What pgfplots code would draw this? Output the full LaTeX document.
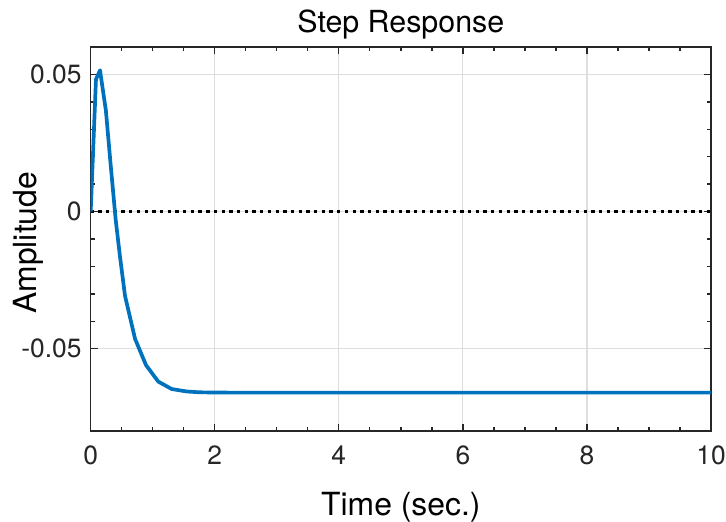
\documentclass[border=0pt]{standalone}
\usepackage{fontspec}
\setmainfont{TeX Gyre Heros}
\usepackage{pgfplots}
\pgfplotsset{compat=1.18}
\definecolor{mblue}{RGB}{0,114,189}
\definecolor{axgray}{RGB}{38,38,38}
\definecolor{gridgray}{RGB}{222,222,222}
\begin{document}
\begin{tikzpicture}
\begin{axis}[
  scale only axis, width=620.3bp, height=384bp,
  xmin=0, xmax=10, ymin=-0.08, ymax=0.06,
  xtick={0,2,4,6,8,10}, xticklabels={0,2,4,6,8,10},
  ytick={-0.05,0,0.05}, yticklabels={-0.05,0,0.05},
  minor x tick num=3, minor y tick num=4,
  scaled y ticks=false,
  grid=major, major grid style={gridgray, line width=1.2bp},
  axis line style={axgray, line width=1.3bp},
  tick style={axgray, line width=1.3bp},
  major tick length=7bp, minor tick length=4bp,
  tick label style={font=\fontsize{26.5}{30}\selectfont, text=axgray, inner sep=0pt},
  xticklabel style={anchor=base, yshift=-33bp},
  yticklabel style={anchor=east, xshift=-9bp},
  title={Step Response},
  every axis title/.style={font=\fontsize{30.5}{34}\selectfont, at={(axis description cs:0.5,1)}, anchor=base, yshift=14bp, inner sep=0pt},
  xlabel={Time (sec.)},
  every axis x label/.style={font=\fontsize{32}{36}\selectfont, at={(axis description cs:0.5,0)}, anchor=base, yshift=-84bp, inner sep=0pt},
  ylabel={Amplitude},
  every axis y label/.style={font=\fontsize{32}{36}\selectfont, at={(axis description cs:-0.0866,0.49)}, anchor=base, rotate=90, inner sep=0pt},
]
\addplot[black, line width=3.5bp, dash pattern=on 3.3bp off 4.4bp] coordinates {(0,0) (10,0)};
\addplot[mblue, line width=3.7bp, line join=round] coordinates {
(0,0) (0.085,0.0482) (0.15,0.0515) (0.245,0.0368) (0.32,0.0175) (0.403,-0.003)
(0.47,-0.016) (0.553,-0.0307) (0.715,-0.0464) (0.892,-0.056) (1.09,-0.062)
(1.306,-0.0647) (1.55,-0.0656) (1.76,-0.0659) (2.2,-0.066) (10,-0.066)};
\coordinate (ll) at (rel axis cs:0,0);
\coordinate (ur) at (rel axis cs:1,1);
\end{axis}
\pgfresetboundingbox
\path ([shift={(-90.7bp,-91bp)}]ll) rectangle ([shift={(15bp,47bp)}]ur);
\end{tikzpicture}
\end{document}
